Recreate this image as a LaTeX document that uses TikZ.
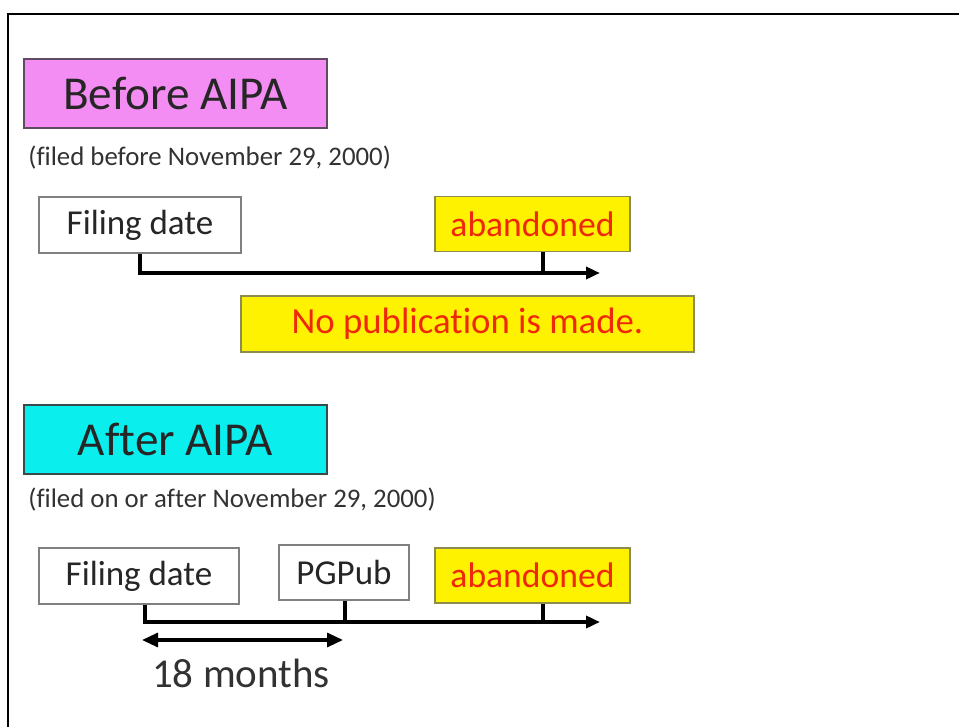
\documentclass[tikz,border=0pt]{standalone}
\usepackage{fontspec}
\setmainfont{Carlito}[Ligatures={NoCommon}]
\usetikzlibrary{arrows.meta}
\definecolor{pinkfill}{RGB}{243,140,243}
\definecolor{pinkline}{RGB}{95,75,95}
\definecolor{cyanfill}{RGB}{10,238,238}
\definecolor{cyanline}{RGB}{55,75,75}
\definecolor{yellowline}{RGB}{140,140,80}
\definecolor{redtext}{RGB}{240,40,10}
\definecolor{greytext}{RGB}{50,50,50}
\begin{document}
\begin{tikzpicture}[x=0.5pt, y=-0.5pt,
    title/.style={draw, line width=1.2pt, inner sep=0pt, minimum width=151.5pt, minimum height=34.5pt, text=black!85, font=\fontsize{23.6}{26}\selectfont},
    note/.style={anchor=west, inner sep=0pt, font=\fontsize{13.4}{15}\selectfont, text=greytext},
    datebox/.style={draw=gray, line width=0.6pt, fill=white, inner sep=0pt, minimum height=28pt, text=black!85, font=\fontsize{17.5}{20}\selectfont},
    endbox/.style={draw=yellowline, line width=0.6pt, fill=yellow, inner sep=0pt, minimum height=27.5pt, text=redtext, font=\fontsize{17.8}{20}\selectfont},
    line/.style={line width=2pt},
    tip/.style={-{Triangle[length=7pt, width=6pt]}}]
    \useasboundingbox (0,0) rectangle (959,727);
    \draw[line width=1pt] (8,727) -- (8,14) -- (959,14);

    % before AIPA
    \node[title, fill=pinkfill, draw=pinkline] (before) at (175.5,93.5) {Before AIPA};
    \node[note] (note1) at (28,158) {(filed before November 29, 2000)};
    \node[datebox, minimum width=101pt] (fd1) at (140,225) {Filing date};
    \node[endbox, minimum width=97.5pt] (ab1) at (532.5,224) {abandoned};
    \node[endbox, minimum width=226.5pt, minimum height=28pt, font=\fontsize{18.4}{20}\selectfont] (nopub) at (467.5,324) {No publication is made.};
    \coordinate (end1) at (600,273);
    \coordinate (t1) at (543,273);
    \draw[line, tip] (fd1.south) |- (end1);
    \draw[line] (ab1.south -| t1) -- (t1);

    % after AIPA
    \node[title, fill=cyanfill, draw=cyanline] (after) at (175.5,439.5) {After AIPA};
    \node[note] (note2) at (28,500) {(filed on or after November 29, 2000)};
    \node[datebox, minimum width=100pt] (fd2) at (139,576) {Filing date};
    \node[datebox, minimum width=65pt, minimum height=27.5pt] (pg) at (344,572.5) {PGPub};
    \node[endbox, minimum width=97.5pt] (ab2) at (532.5,575.5) {abandoned};
    \coordinate (start2) at (145,622);
    \coordinate (end2) at (600,622);
    \coordinate (t2) at (345,622);
    \coordinate (t3) at (543,622);
    \draw[line, tip] (fd2.south -| start2) -- (start2) -- (end2);
    \draw[line] (pg.south -| t2) -- (t2);
    \draw[line] (ab2.south -| t3) -- (t3);

    % 18 months
    \coordinate (m1) at (142,640);
    \coordinate (m2) at (343,640);
    \draw[line width=1.6pt, {Triangle[length=8pt, width=7pt]}-{Triangle[length=8pt, width=7pt]}] (m1) -- (m2);
    \node[text=greytext, font=\fontsize{20.5}{24}\selectfont] (months) at (241,673) {18 months};
\end{tikzpicture}
\end{document}
